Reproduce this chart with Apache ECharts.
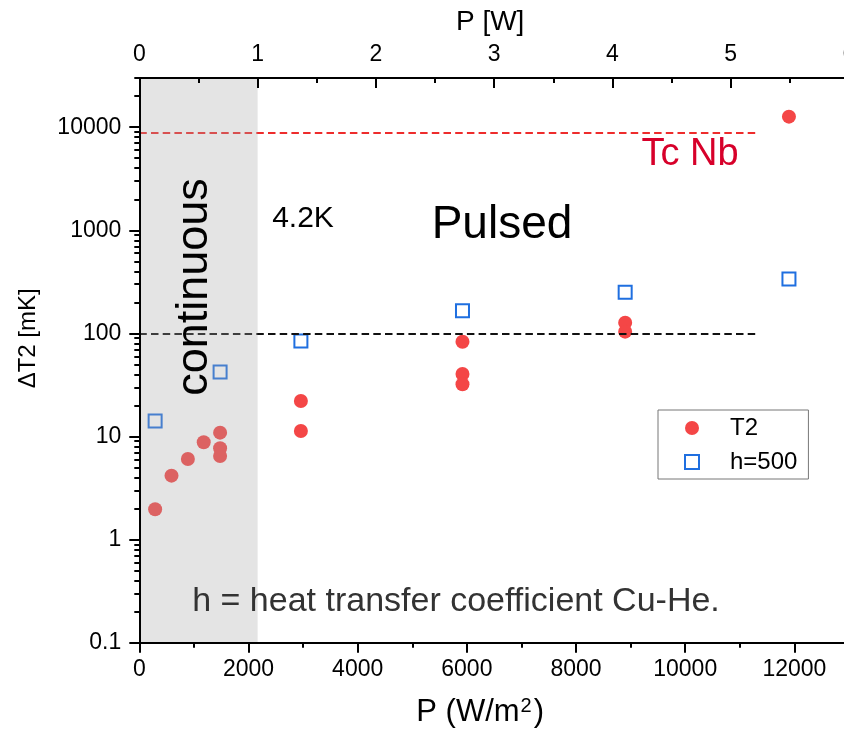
<!DOCTYPE html>
<html><head><meta charset="utf-8">
<script src="https://cdn.jsdelivr.net/npm/echarts@6/dist/echarts.min.js"></script>
<style>html,body{margin:0;padding:0;background:#fff;overflow:hidden}#c{width:844px;height:733px}</style>
</head><body><div id="c"></div>
<script>
const FONT = 'Liberation Sans, Arial, Helvetica, sans-serif';

// ---- data ----
const t2Power = [290, 590, 890, 1180, 1480, 1480, 1480, 2960, 2960, 5920, 5920, 5920, 8900, 8900, 11900];
const t2Delta = [1.97, 4.17, 6.05, 8.79, 10.9, 7.69, 6.47, 22.1, 11.3, 83.0, 40.4, 32.1, 127, 104, 12650];
const hPower = [290, 1480, 2960, 5920, 8900, 11900];
const hDelta = [14.1, 42.2, 84.4, 166, 250, 337];

// axes
const xMinWm2 = 0, xMaxWm2 = 13000, xIntervalWm2 = 2000;
const xMinW = 0, xMaxW = 6, xIntervalW = 1;
const yMin = 0.0999999, yMax = 30000;
const yTickValues = [0.1, 1, 10, 100, 1000, 10000];
const yMinorMultipliers = [2, 3, 4, 5, 6, 7, 8, 9];

// annotations
const tcNbLevel = 8800;       // mK
const level42K = 100;         // mK
const lineEndPower = 11345;   // W/m2
const continuousRange = [0, 2167]; // W/m2 (0 .. 1 W)

const yMinorValues = [];
yTickValues.forEach(function (d) {
  yMinorMultipliers.forEach(function (k) {
    const v = +(d * k).toPrecision(6);
    if (v <= yMax) yMinorValues.push(v);
  });
});

const t2Data = t2Power.map((p, i) => [p, t2Delta[i]]);
const hData = hPower.map((p, i) => [p, hDelta[i]]);

const chart = echarts.init(document.getElementById('c'), null, {renderer: 'canvas'});
const axisLineStyle = {color: '#000', width: 2};
const plainNum = function (v) { return String(+(+v).toPrecision(6)); };

const option = {
  animation: false,
  backgroundColor: '#fff',
  textStyle: {fontFamily: FONT},
  grid: {left: 139.3, right: -5, top: 78, bottom: 90.3, containLabel: false, outerBoundsMode: 'none'},
  legend: {
    orient: 'vertical', left: 658, top: 410,
    data: [
      {name: 'T2', icon: 'circle', itemStyle: {color: '#f44646'}},
      {name: 'h=500', icon: 'rect', itemStyle: {color: 'rgba(255,255,255,0)', borderColor: '#1f6fe0', borderWidth: 2}}
    ],
    itemWidth: 14, itemHeight: 14, itemGap: 10,
    padding: [6, 11, 5, 26],
    borderColor: '#777', borderWidth: 1, backgroundColor: '#fff',
    selectedMode: false,
    textStyle: {fontSize: 24, color: '#000', fontFamily: FONT, padding: [0, 0, 0, 26]},
    z: 60
  },
  xAxis: [
    {
      type: 'value', position: 'bottom', min: xMinWm2, max: xMaxWm2, interval: xIntervalWm2,
      z: 50,
      name: 'P (W/m{sup|2})', nameLocation: 'middle', nameGap: 54,
      nameTextStyle: {fontSize: 31, color: '#000', fontFamily: FONT, padding: [0, 28, 0, 0],
        rich: {sup: {fontSize: 20, fontFamily: FONT, color: '#000', verticalAlign: 'top', padding: [0, 2, 0, 1]}}},
      axisLine: {show: true, onZero: false, lineStyle: axisLineStyle},
      axisTick: {show: true, length: 10, lineStyle: {color: '#000', width: 2}},
      minorTick: {show: true, splitNumber: 2, length: 5, lineStyle: {color: '#000', width: 2}},
      axisLabel: {fontSize: 23, color: '#000', margin: 15, fontFamily: FONT, showMaxLabel: false, formatter: plainNum},
      splitLine: {show: false}
    },
    {
      type: 'value', position: 'top', min: xMinW, max: xMaxW, interval: xIntervalW,
      z: 50,
      name: 'P [W]', nameLocation: 'middle', nameGap: 42,
      nameTextStyle: {fontSize: 28, color: '#000', fontFamily: FONT, padding: [0, 8, 0, 0]},
      axisLine: {show: true, onZero: false, lineStyle: axisLineStyle},
      axisTick: {show: true, inside: true, length: 10, lineStyle: {color: '#000', width: 2}},
      minorTick: {show: true, splitNumber: 2, length: 5, lineStyle: {color: '#000', width: 2}},
      axisLabel: {fontSize: 23, color: '#000', margin: 12, fontFamily: FONT, formatter: plainNum},
      splitLine: {show: false}
    }
  ],
  yAxis: [
    {
      type: 'log', logBase: 10, min: yMin, max: yMax, position: 'left',
      z: 50,
      name: 'ΔT2 [mK]', nameLocation: 'middle', nameGap: 99,
      nameTextStyle: {fontSize: 24, color: '#000', fontFamily: FONT, padding: [0, 0, 0, 44]},
      axisLine: {show: true, onZero: false, lineStyle: axisLineStyle},
      axisTick: {show: true, length: 10, customValues: yTickValues, lineStyle: {color: '#000', width: 2}},
      axisLabel: {fontSize: 23, color: '#000', margin: 18, fontFamily: FONT, customValues: yTickValues, formatter: plainNum},
      splitLine: {show: false}
    },
    {
      type: 'log', logBase: 10, min: yMin, max: yMax, position: 'left',
      z: 50,
      axisLine: {show: false},
      axisTick: {show: true, length: 5, customValues: yMinorValues, lineStyle: {color: '#000', width: 2}},
      axisLabel: {show: false},
      splitLine: {show: false}
    }
  ],
  graphic: [
    {type: 'text', x: 195, y: 287, rotation: Math.PI / 2, z: 100,
      style: {text: 'continuous', fontSize: 45, fontFamily: FONT, fill: '#000', align: 'center', verticalAlign: 'middle'}},
    {type: 'text', x: 303, y: 219, z: 100,
      style: {text: '4.2K', fontSize: 30, fontFamily: FONT, fill: '#000', align: 'center', verticalAlign: 'middle'}},
    {type: 'text', x: 502, y: 225, z: 100,
      style: {text: 'Pulsed', fontSize: 46, fontFamily: FONT, fill: '#000', align: 'center', verticalAlign: 'middle'}},
    {type: 'text', x: 690, y: 155, z: 100,
      style: {text: 'Tc Nb', fontSize: 38, fontFamily: FONT, fill: '#d7002a', align: 'center', verticalAlign: 'middle'}},
    {type: 'text', x: 456, y: 602, z: 100,
      style: {text: 'h = heat transfer coefficient Cu-He.', fontSize: 34, fontFamily: FONT, fill: '#333', align: 'center', verticalAlign: 'middle'}}
  ],
  series: [
    {
      name: 'T2', type: 'scatter', xAxisIndex: 0, yAxisIndex: 0, z: 3,
      symbol: 'circle', symbolSize: 14,
      itemStyle: {color: '#f44646', opacity: 1},
      data: t2Data
    },
    {
      name: 'h=500', type: 'scatter', xAxisIndex: 0, yAxisIndex: 0, z: 3,
      symbol: 'rect', symbolSize: 13,
      itemStyle: {color: 'rgba(255,255,255,0)', borderColor: '#1f6fe0', borderWidth: 2, opacity: 1},
      data: hData
    },
    {
      name: 'limits', type: 'line', xAxisIndex: 0, yAxisIndex: 0, z: 2,
      data: [],
      markLine: {
        silent: true, symbol: 'none', label: {show: false}, animation: false,
        lineStyle: {type: [7.5, 4.2], width: 2},
        data: [
          [{coord: [xMinWm2, tcNbLevel], lineStyle: {color: '#ee2c2c', type: [7.5, 4.2], width: 2}}, {coord: [lineEndPower, tcNbLevel]}],
          [{coord: [xMinWm2, level42K], lineStyle: {color: '#111', type: [7.5, 4.2], width: 2}}, {coord: [lineEndPower, level42K]}]
        ]
      }
    },
    {
      name: 'continuous region', type: 'custom', xAxisIndex: 0, yAxisIndex: 0, z: 10, silent: true,
      data: [continuousRange],
      renderItem: function (params, api) {
        const a = api.coord([api.value(0), 1]);
        const b = api.coord([api.value(1), 1]);
        const cs = params.coordSys;
        return {type: 'rect', shape: {x: a[0], y: cs.y, width: b[0] - a[0], height: cs.height},
          style: {fill: 'rgba(165,165,165,0.3)'}};
      }
    }
  ]
};
chart.setOption(option);
</script></body></html>
